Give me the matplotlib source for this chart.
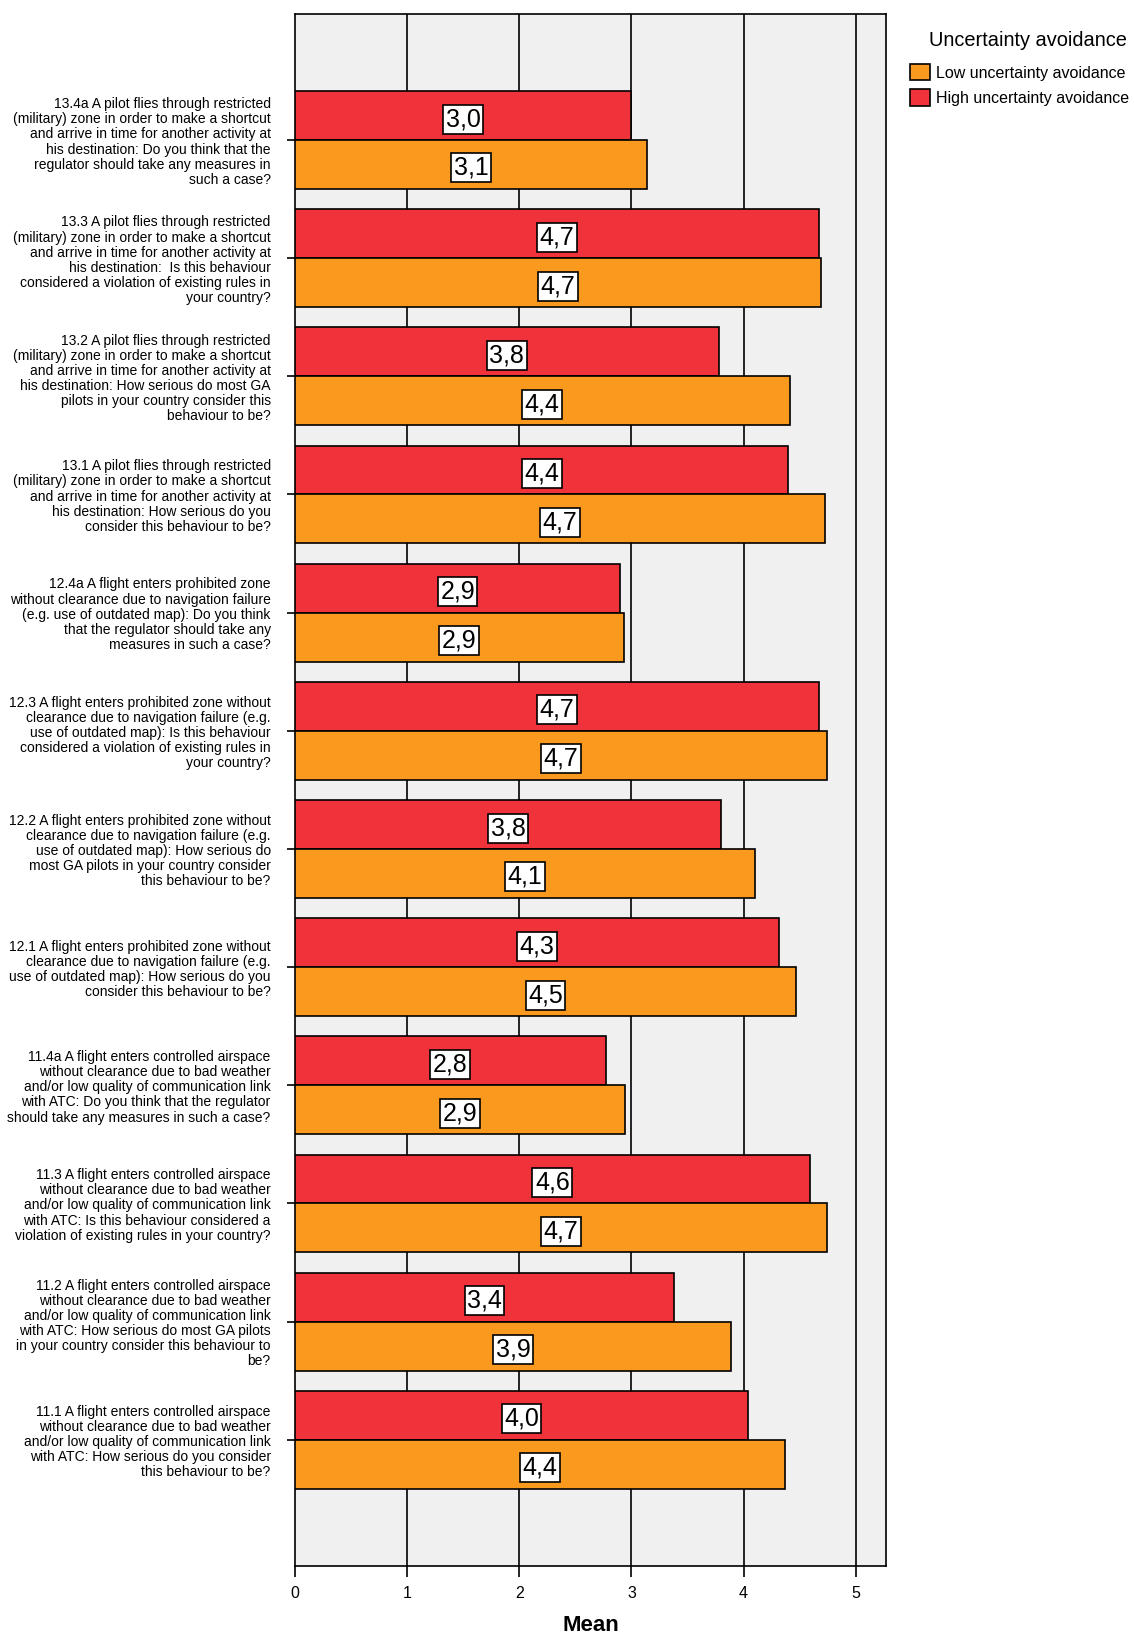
import matplotlib.pyplot as plt
import numpy as np

questions = [
    "13.4a A pilot flies through restricted\n(military) zone in order to make a shortcut\nand arrive in time for another activity at\nhis destination: Do you think that the\nregulator should take any measures in\nsuch a case?",
    "13.3 A pilot flies through restricted\n(military) zone in order to make a shortcut\nand arrive in time for another activity at\nhis destination:  Is this behaviour\nconsidered a violation of existing rules in\nyour country?",
    "13.2 A pilot flies through restricted\n(military) zone in order to make a shortcut\nand arrive in time for another activity at\nhis destination: How serious do most GA\npilots in your country consider this\nbehaviour to be?",
    "13.1 A pilot flies through restricted\n(military) zone in order to make a shortcut\nand arrive in time for another activity at\nhis destination: How serious do you\nconsider this behaviour to be?",
    "12.4a A flight enters prohibited zone\nwithout clearance due to navigation failure\n(e.g. use of outdated map): Do you think\nthat the regulator should take any\nmeasures in such a case?",
    "12.3 A flight enters prohibited zone without\nclearance due to navigation failure (e.g.\nuse of outdated map): Is this behaviour\nconsidered a violation of existing rules in\nyour country?",
    "12.2 A flight enters prohibited zone without\nclearance due to navigation failure (e.g.\nuse of outdated map): How serious do\nmost GA pilots in your country consider\nthis behaviour to be?",
    "12.1 A flight enters prohibited zone without\nclearance due to navigation failure (e.g.\nuse of outdated map): How serious do you\nconsider this behaviour to be?",
    "11.4a A flight enters controlled airspace\nwithout clearance due to bad weather\nand/or low quality of communication link\nwith ATC: Do you think that the regulator\nshould take any measures in such a case?",
    "11.3 A flight enters controlled airspace\nwithout clearance due to bad weather\nand/or low quality of communication link\nwith ATC: Is this behaviour considered a\nviolation of existing rules in your country?",
    "11.2 A flight enters controlled airspace\nwithout clearance due to bad weather\nand/or low quality of communication link\nwith ATC: How serious do most GA pilots\nin your country consider this behaviour to\nbe?",
    "11.1 A flight enters controlled airspace\nwithout clearance due to bad weather\nand/or low quality of communication link\nwith ATC: How serious do you consider\nthis behaviour to be?",
]

# mean scores per question
high_ua = [3.00, 4.67, 3.78, 4.40, 2.90, 4.67, 3.80, 4.32, 2.77, 4.59, 3.38, 4.04]
low_ua = [3.14, 4.69, 4.41, 4.73, 2.93, 4.74, 4.10, 4.47, 2.94, 4.74, 3.89, 4.37]

red = '#f0333a'
orange = '#f99a1f'

plt.rcParams['font.family'] = ['Liberation Sans', 'DejaVu Sans']

fig = plt.figure(figsize=(11.34, 16.34), dpi=100)
ax = fig.add_axes([0.2601, 0.0415, 0.5212, 0.9502])
ax.set_facecolor('#f0f0f0')

y = np.arange(len(questions))
h = 0.414

bars_hi = ax.barh(y - h / 2, high_ua, height=h, color=red, edgecolor='black', linewidth=1.2,
                  label='High uncertainty avoidance', zorder=3)
bars_lo = ax.barh(y + h / 2, low_ua, height=h, color=orange, edgecolor='black', linewidth=1.2,
                  label='Low uncertainty avoidance', zorder=3)

for bars, vals in [(bars_hi, high_ua), (bars_lo, low_ua)]:
    for b, v in zip(bars, vals):
        ax.text(v / 2, b.get_y() + b.get_height() / 2 + 0.03, f"{v:.1f}".replace('.', ','),
                ha='center', va='center', fontsize=18, zorder=4,
                bbox=dict(boxstyle='square,pad=0.1', facecolor='white', edgecolor='black', linewidth=1.2))

for xv in range(1, 6):
    ax.axvline(xv, color='black', linewidth=1.2, zorder=1)

ax.set_xlim(0, 5.27)
ax.set_ylim(len(questions) - 1 + 1.07, -1.07)
ax.set_xticks(range(6))
ax.set_yticks(y)
ax.set_yticklabels(questions, fontsize=10, linespacing=1.1)
ax.tick_params(axis='y', length=5.5, width=1.2, pad=12)
ax.tick_params(axis='x', length=8, width=1.2, labelsize=11.5, pad=6)
for s in ax.spines.values():
    s.set_linewidth(1.2)

ax.set_xlabel('Mean', fontsize=16, fontweight='bold', labelpad=10)

fig.text(0.819, 0.9755, 'Uncertainty avoidance', fontsize=14.4, ha='left', va='center')
handles = [bars_lo, bars_hi]
fig.legend(handles, [hd.get_label() for hd in handles],
           loc='upper left', bbox_to_anchor=(0.8025, 0.9608), frameon=False, borderpad=0,
           borderaxespad=0, fontsize=11.5, handlelength=1.25, handleheight=1.2,
           handletextpad=0.4, labelspacing=0.55)

fig.savefig('out.png', dpi=100)
